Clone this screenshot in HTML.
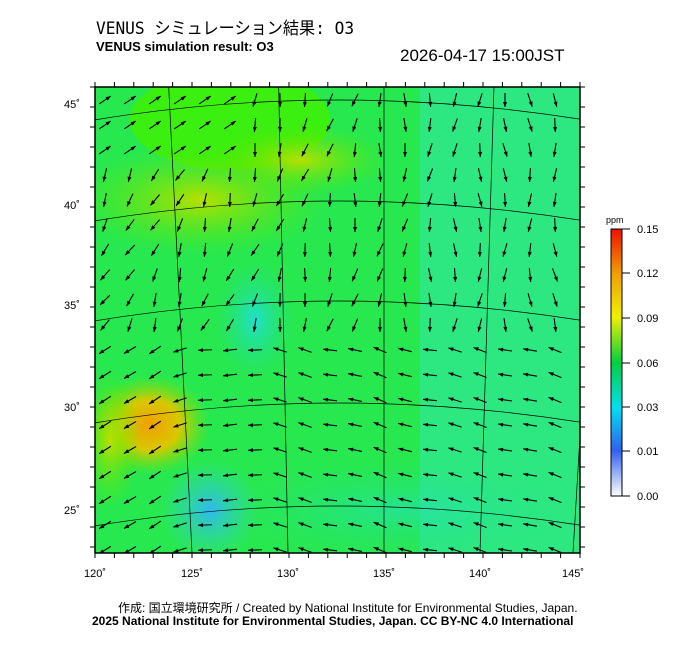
<!DOCTYPE html>
<html><head><meta charset="utf-8"><style>
body{margin:0;background:#fff;width:700px;height:649px;overflow:hidden;font-family:"Liberation Sans",sans-serif}
.t{position:absolute;white-space:nowrap;color:#000}
</style></head><body>
<div class="t" style="left:96px;top:14px;font-size:17px;font-family:'DejaVu Sans Mono','Noto Sans CJK JP',monospace;transform:scaleX(0.95);transform-origin:left">VENUS シミュレーション結果: O3</div>
<div class="t" style="left:96px;top:39px;font-size:13px;font-weight:bold">VENUS simulation result: O3</div>
<div class="t" style="left:400px;top:46px;font-size:17px">2026-04-17 15:00JST</div>
<svg width="700" height="649" style="position:absolute;left:0;top:0" id="s">
<defs>
<radialGradient id="o1"><stop offset="0" stop-color="#f0a000"/><stop offset="0.5" stop-color="#d8c800"/><stop offset="1" stop-color="#80e000" stop-opacity="0"/></radialGradient>
<radialGradient id="y1"><stop offset="0" stop-color="#b8e000"/><stop offset="1" stop-color="#50e800" stop-opacity="0"/></radialGradient>
<radialGradient id="c1"><stop offset="0" stop-color="#20e0d0"/><stop offset="1" stop-color="#20e080" stop-opacity="0"/></radialGradient>
<radialGradient id="b1"><stop offset="0" stop-color="#30b8f0"/><stop offset="1" stop-color="#30d8c0" stop-opacity="0"/></radialGradient>
<linearGradient id="cb" x1="0" y1="1" x2="0" y2="0">
<stop offset="0" stop-color="#ffffff"/><stop offset="0.17" stop-color="#3060f0"/><stop offset="0.33" stop-color="#00e0f0"/><stop offset="0.5" stop-color="#00d040"/><stop offset="0.67" stop-color="#f0f000"/><stop offset="0.83" stop-color="#f0a000"/><stop offset="1" stop-color="#f01000"/></linearGradient>
<clipPath id="cp"><rect x="95" y="87" width="485" height="466"/></clipPath>
</defs>
<g clip-path="url(#cp)">
<rect x="95" y="87" width="485" height="466" fill="#28e850"/>
<rect x="420" y="87" width="160" height="466" fill="#30e8a0" opacity="0.6"/>
<ellipse cx="230" cy="120" rx="100" ry="50" fill="#40f000" opacity="0.8"/>
<ellipse cx="200" cy="200" rx="130" ry="55" fill="url(#y1)"/>
<ellipse cx="300" cy="160" rx="90" ry="35" fill="url(#y1)"/>
<ellipse cx="150" cy="425" rx="60" ry="50" fill="url(#o1)"/>
<ellipse cx="110" cy="440" rx="30" ry="70" fill="url(#y1)"/>
<ellipse cx="255" cy="320" rx="40" ry="60" fill="url(#c1)"/>
<ellipse cx="210" cy="510" rx="50" ry="50" fill="url(#b1)"/>
<ellipse cx="400" cy="510" rx="180" ry="50" fill="url(#c1)" opacity="0.5"/>
<g id="grat" stroke="#000" stroke-width="0.7" fill="none"></g>
<g id="arr" stroke="#000" fill="#000"></g>
</g>
<rect x="95" y="87" width="485" height="466" fill="none" stroke="#000" stroke-width="1.5"/>
<g id="ticks" stroke="#000" stroke-width="1"></g>
<g font-size="11" font-family="Liberation Sans" fill="#000">
<text x="64" y="108">45˚</text><text x="64" y="209">40˚</text><text x="64" y="309">35˚</text><text x="64" y="411">30˚</text><text x="64" y="514">25˚</text>
<text x="84" y="577">120˚</text><text x="181" y="577">125˚</text><text x="277" y="577">130˚</text><text x="373" y="577">135˚</text><text x="469" y="577">140˚</text><text x="562" y="577">145˚</text>
</g>
<rect x="611" y="229" width="11" height="267" fill="url(#cb)" stroke="#000" stroke-width="1"/>
<g stroke="#000"><line x1="622" y1="229" x2="630" y2="229"/><line x1="622" y1="273" x2="630" y2="273"/><line x1="622" y1="318" x2="630" y2="318"/><line x1="622" y1="363" x2="630" y2="363"/><line x1="622" y1="407" x2="630" y2="407"/><line x1="622" y1="451" x2="630" y2="451"/><line x1="622" y1="496" x2="630" y2="496"/></g>
<g font-size="11" fill="#000"><text x="606" y="223" font-size="9">ppm</text>
<text x="637" y="233">0.15</text><text x="637" y="277">0.12</text><text x="637" y="322">0.09</text><text x="637" y="367">0.06</text><text x="637" y="411">0.03</text><text x="637" y="455">0.01</text><text x="637" y="500">0.00</text></g>
</svg>
<div class="t" style="left:118px;top:599px;font-size:12px;font-family:'Liberation Sans','Noto Sans CJK JP',sans-serif">作成: 国立環境研究所 / Created by National Institute for Environmental Studies, Japan.</div>
<div class="t" style="left:92px;top:614px;font-size:12px;font-weight:bold">2025 National Institute for Environmental Studies, Japan. CC BY-NC 4.0 International</div>
<script>
var ns="http://www.w3.org/2000/svg";
function el(p,t,a){var e=document.createElementNS(ns,t);for(var k in a)e.setAttribute(k,a[k]);p.appendChild(e);return e;}
var g=document.getElementById('grat');
[104,205,305,407,510].forEach(function(y){el(g,'path',{d:'M60 '+(y+22)+' Q337 '+(y-30)+' 620 '+(y+22)});});
[[95,-0.07],[192,-0.05],[288,-0.02],[384,0.0],[480,0.03],[573,0.06]].forEach(function(l){el(g,'line',{x1:l[0]+l[1]*466,y1:87,x2:l[0],y2:553});});
var a=document.getElementById('arr');
for(var y=100;y<553;y+=25){for(var x=105;x<580;x+=25){
 var ang;var fy=(y-87)/466,fx=(x-95)/485;
 if(fy<0.55) ang=Math.PI/2+0.5-0.6*fx+Math.sin(x*0.05+y*0.03)*0.3;
 else ang=Math.PI+0.25+0.15*Math.sin(x*0.07)+ (fx<0.4?-1.0*(1-fx/0.4):0);
 if(fy<0.15&&fx<0.3) ang=-0.6;
 var L=14,dx=Math.cos(ang)*L/2,dy=Math.sin(ang)*L/2;
 el(a,'line',{x1:x-dx,y1:y-dy,x2:x+dx,y2:y+dy,'stroke-width':1.1});
 var hx=x+dx,hy=y+dy,c=Math.cos(ang),s=Math.sin(ang);
 el(a,'polygon',{points:hx+','+hy+' '+(hx-5*c-2*s)+','+(hy-5*s+2*c)+' '+(hx-5*c+2*s)+','+(hy-5*s-2*c),stroke:'none'});
}}
var t=document.getElementById('ticks');
for(var x=95;x<=580;x+=19.4){el(t,'line',{x1:x,y1:87,x2:x,y2:82});el(t,'line',{x1:x,y1:553,x2:x,y2:558});}
for(var y=87;y<=553;y+=20){el(t,'line',{x1:580,y1:y,x2:585,y2:y});el(t,'line',{x1:95,y1:y,x2:90,y2:y});}
</script>
</body></html>
